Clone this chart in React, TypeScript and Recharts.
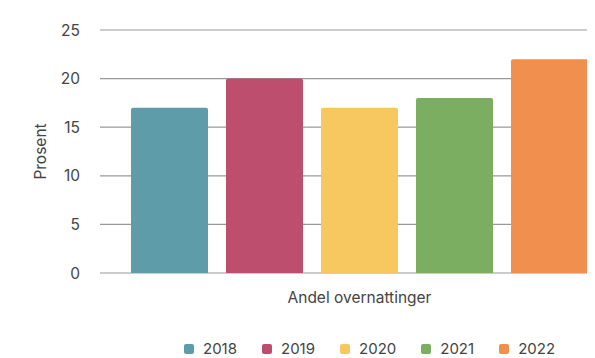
import React from 'react';
import { BarChart, Bar, XAxis, YAxis, CartesianGrid } from 'recharts';

const categories = ['Andel overnattinger'];
const years = ['2018', '2019', '2020', '2021', '2022'];
const values2018 = [17];
const values2019 = [20];
const values2020 = [17];
const values2021 = [18];
const values2022 = [22];
const yTicks = [0, 5, 10, 15, 20, 25];
const colors = ['#5f9ca9', '#bd4e6d', '#f6c85f', '#7cae62', '#f08f4e'];

const seriesValues = [values2018, values2019, values2020, values2021, values2022];
const data = categories.map((c, i) => {
  const row: Record<string, string | number> = { name: c };
  years.forEach((y, k) => {
    row[y] = seriesValues[k][i];
  });
  return row;
});

const font = 'Inter, "Noto Sans", sans-serif';

const Legend2 = () => (
  <div
    style={{
      position: 'absolute',
      left: 176,
      top: 332,
      height: 18,
      display: 'flex',
      fontFamily: font,
      fontSize: 15,
      lineHeight: '18px',
      color: '#444',
      whiteSpace: 'nowrap',
    }}
  >
    {years.map((y, i) => (
      <div key={y} style={{ display: 'flex', alignItems: 'center', marginRight: i < years.length - 1 ? 25 : 0 }}>
        <span
          style={{
            display: 'inline-block',
            width: 10,
            height: 10,
            borderRadius: 2,
            background: colors[i],
            marginRight: 9,
          }}
        />
        <span>{y}</span>
      </div>
    ))}
  </div>
);

export default function App() {
  return (
    <div style={{ position: 'relative', width: 587, height: 350, overflow: 'hidden' }}>
      <BarChart
        width={620}
        height={350}
        data={data}
        margin={{ top: 22, right: 9, bottom: 55, left: 0 }}
        barSize={77}
        barGap={18}
      >
        <CartesianGrid vertical={false} stroke="#999" strokeWidth={1.2} />
        <XAxis
          dataKey="name"
          axisLine={false}
          tickLine={false}
          tickMargin={13}
          tick={{ fill: '#444', fontSize: 15.5, fontFamily: font }}
        />
        <YAxis
          width={92}
          domain={[0, 25]}
          ticks={yTicks}
          axisLine={false}
          tickLine={false}
          tickMargin={14}
          tick={{ fill: '#444', fontSize: 15.5, fontFamily: font }}
          label={{
            value: 'Prosent',
            angle: -90,
            position: 'insideLeft',
            offset: 32,
            style: { textAnchor: 'middle', fill: '#444', fontSize: 15.5, fontFamily: font },
          }}
        />
        {years.map((y, i) => (
          <Bar key={y} dataKey={y} fill={colors[i]} radius={[2, 2, 0, 0]} isAnimationActive={false} />
        ))}
      </BarChart>
      <Legend2 />
    </div>
  );
}
